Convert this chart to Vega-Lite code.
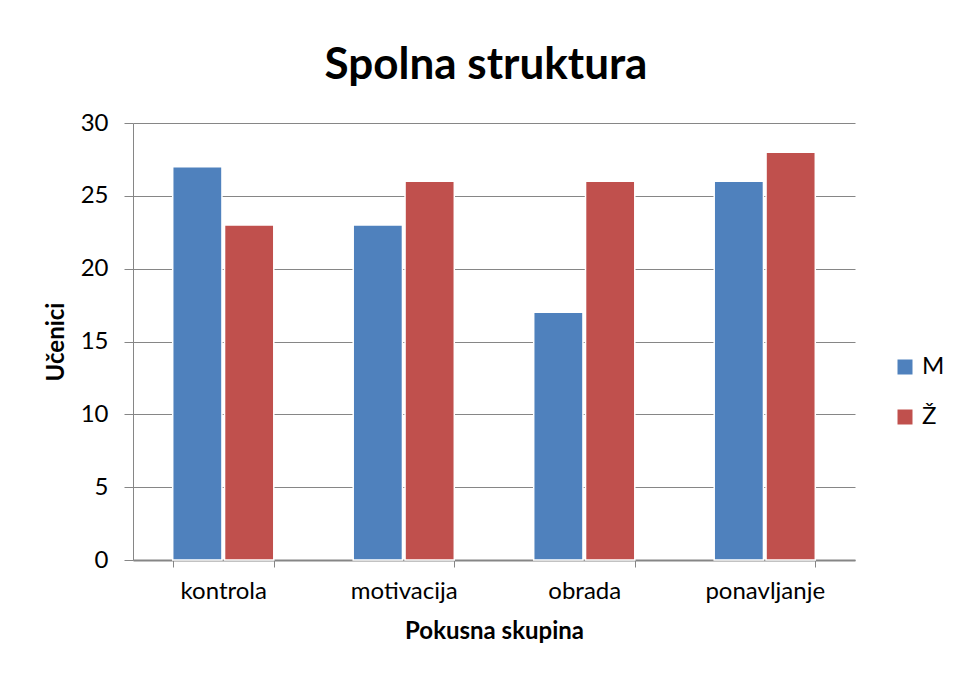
{
  "$schema": "https://vega.github.io/schema/vega-lite/v6.json",
  "width": 722,
  "height": 437,
  "autosize": {"type": "none"},
  "padding": {"left": 133, "top": 123, "right": 103, "bottom": 117},
  "background": "white",
  "config": {
    "view": {"stroke": null},
    "font": "Lato"
  },
  "title": {
    "text": "Spolna struktura",
    "font": "Lato",
    "fontSize": 44,
    "fontWeight": "bold",
    "color": "#000000",
    "anchor": "middle",
    "offset": 40,
    "dy": 52,
    "dx": -8,
    "baseline": "alphabetic"
  },
  "data": {
    "values": [
      {"skupina": "kontrola", "spol": "M", "ucenici": 27},
      {"skupina": "kontrola", "spol": "Ž", "ucenici": 23},
      {"skupina": "motivacija", "spol": "M", "ucenici": 23},
      {"skupina": "motivacija", "spol": "Ž", "ucenici": 26},
      {"skupina": "obrada", "spol": "M", "ucenici": 17},
      {"skupina": "obrada", "spol": "Ž", "ucenici": 26},
      {"skupina": "ponavljanje", "spol": "M", "ucenici": 26},
      {"skupina": "ponavljanje", "spol": "Ž", "ucenici": 28}
    ]
  },
  "mark": {"type": "bar", "stroke": "white", "strokeWidth": 1.5},
  "encoding": {
    "x": {
      "field": "skupina",
      "type": "nominal",
      "sort": null,
      "scale": {"paddingInner": 0.44, "paddingOuter": 0.22},
      "axis": {
        "title": "Pokusna skupina",
        "titleFont": "Lato",
        "titleFontSize": 24,
        "titleFontWeight": "bold",
        "titleColor": "#000000",
        "titlePadding": 16,
        "labelAngle": 0,
        "labelFont": "Lato",
        "labelFontSize": 24,
        "labelColor": "#000000",
        "labelPadding": 12,
        "domainColor": "#868686",
        "domainWidth": 2,
        "tickColor": "#868686",
        "tickSize": 7,
        "tickBand": "extent",
        "grid": false
      }
    },
    "xOffset": {
      "field": "spol",
      "type": "nominal",
      "scale": {"paddingInner": 0.05}
    },
    "y": {
      "field": "ucenici",
      "type": "quantitative",
      "scale": {"domain": [0, 30]},
      "axis": {
        "title": "Učenici",
        "titleFont": "Lato",
        "titleFontSize": 24,
        "titleFontWeight": "bold",
        "titleColor": "#000000",
        "titlePadding": 12,
        "values": [0, 5, 10, 15, 20, 25, 30],
        "labelFont": "Lato",
        "labelFontSize": 24,
        "labelColor": "#000000",
        "labelPadding": 16,
        "domainColor": "#868686",
        "domainWidth": 1,
        "tickColor": "#868686",
        "tickSize": 9,
        "gridColor": "#868686",
        "gridWidth": 1
      }
    },
    "color": {
      "field": "spol",
      "type": "nominal",
      "scale": {"domain": ["M", "Ž"], "range": ["#4F81BD", "#C0504D"]},
      "legend": {
        "title": null,
        "orient": "none",
        "legendX": 760,
        "legendY": 232,
        "symbolType": "square",
        "symbolSize": 225,
        "symbolStrokeWidth": 0,
        "labelFont": "Lato",
        "labelFontSize": 24,
        "labelColor": "#000000",
        "rowPadding": 26,
        "labelOffset": 5
      }
    }
  }
}
